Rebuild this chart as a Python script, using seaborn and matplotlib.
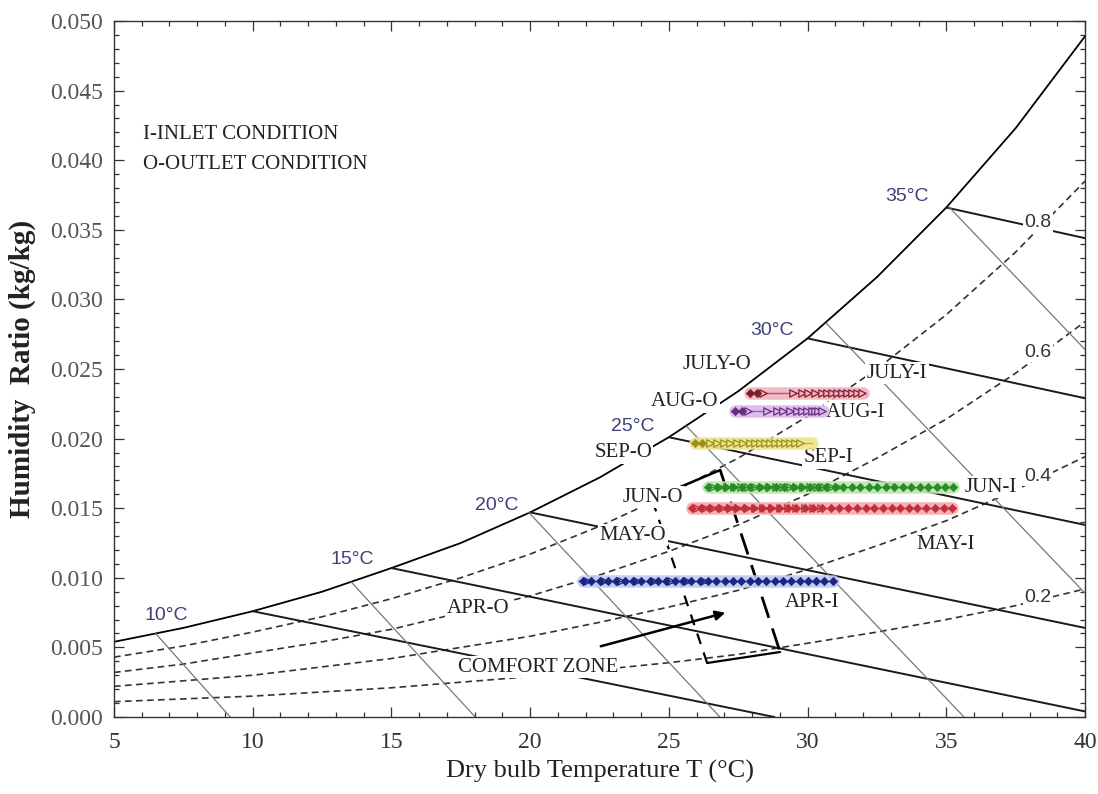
import matplotlib
matplotlib.use("Agg")
import matplotlib.pyplot as plt
import seaborn as sns
from matplotlib.ticker import MultipleLocator, FormatStrFormatter

# ---- psychrometric background (dry bulb degC, humidity ratio kg/kg)
T_GRID = [5, 7.5, 10, 12.5, 15, 17.5, 20, 22.5, 25, 27.5, 30, 32.5, 35, 37.5, 40]
W_SAT = [0.0054, 0.0064, 0.0076, 0.0090, 0.0107, 0.0125, 0.0147, 0.0172, 0.0201,
         0.0234, 0.0272, 0.0316, 0.0366, 0.0423, 0.0489]
W_RH80 = [0.0043, 0.0051, 0.0061, 0.0072, 0.0085, 0.0100, 0.0117, 0.0137, 0.0160,
          0.0186, 0.0216, 0.0250, 0.0289, 0.0334, 0.0385]
W_RH60 = [0.0032, 0.0038, 0.0046, 0.0054, 0.0063, 0.0075, 0.0087, 0.0102, 0.0119,
          0.0138, 0.0160, 0.0186, 0.0214, 0.0247, 0.0284]
W_RH40 = [0.0022, 0.0026, 0.0030, 0.0036, 0.0042, 0.0050, 0.0058, 0.0068, 0.0079,
          0.0091, 0.0106, 0.0123, 0.0141, 0.0163, 0.0187]
W_RH20 = [0.0011, 0.0013, 0.0015, 0.0018, 0.0021, 0.0025, 0.0029, 0.0034, 0.0039,
          0.0045, 0.0053, 0.0061, 0.0070, 0.0080, 0.0092]
RH_LABELS = ["0.8", "0.6", "0.4", "0.2"]
RH_LABEL_W = [0.0355, 0.0262, 0.0173, 0.0086]
RH_LABEL_T = 38.3

# wet bulb lines
WB_LABELS = ["10°C", "15°C", "20°C", "25°C", "30°C", "35°C"]
WB_START_T = [10, 15, 20, 25, 30, 35]
WB_START_W = [0.0076, 0.0107, 0.0147, 0.0201, 0.0272, 0.0366]
WB_END_T = [28.8, 40, 40, 40, 40, 40]
WB_END_W = [0.0, 0.0004, 0.0064, 0.0138, 0.0229, 0.0344]
WB_LABEL_T = [6.9, 13.6, 18.8, 23.7, 28.7, 33.6]
WB_LABEL_W = [0.0073, 0.0113, 0.0152, 0.0209, 0.0278, 0.0374]

# specific volume lines
VOL_START_T = [6.5, 13.55, 19.95, 25.63, 30.67, 35.07]
VOL_START_W = [0.0060, 0.0097, 0.0147, 0.0209, 0.0283, 0.0367]
VOL_END_T = [9.19, 18.02, 26.84, 35.64, 40, 40]
VOL_END_W = [0.0, 0.0, 0.0, 0.0, 0.0089, 0.0264]

# ---- monthly runs (constant humidity ratio)
MONTHS = ["JULY", "AUG", "SEP", "JUN", "MAY", "APR"]
MONTH_W = [0.02328, 0.02198, 0.01968, 0.01652, 0.01501, 0.00977]
JULY_D = [27.93, 28.17]
JULY_A = [28.41, 29.49, 29.79, 30.03, 30.27, 30.51, 30.69, 30.87, 31.05, 31.23,
          31.41, 31.59, 31.77, 31.95]
AUG_D = [27.39, 27.63]
AUG_A = [27.87, 28.53, 28.89, 29.13, 29.37, 29.61, 29.79, 29.97, 30.15, 30.27,
         30.39, 30.51]
SEP_D = [25.94, 26.18]
SEP_A = [26.49, 26.73, 26.97, 27.21, 27.45, 27.69, 27.93, 28.11, 28.29, 28.47,
         28.65, 28.83, 29.01, 29.19, 29.37, 29.55, 29.73]
JUN_D = [26.41, 26.72, 27.02, 27.33, 27.63, 27.94, 28.24, 28.55, 28.85, 29.16,
         29.46, 29.77, 30.07, 30.38, 30.68, 30.99, 31.29, 31.60, 31.90, 32.21,
         32.51, 32.82, 33.12, 33.43, 33.73, 34.04, 34.34, 34.65, 34.95, 35.25]
JUN_A = [26.6, 26.85, 27.1, 27.35, 27.6, 27.85, 28.1, 28.35, 28.6, 28.85, 29.1,
         29.35, 29.6, 29.85, 30.1, 30.35, 30.6, 30.85, 31.1]
MAY_D = [25.84, 26.15, 26.46, 26.78, 27.09, 27.40, 27.71, 28.03, 28.34, 28.65,
         28.96, 29.28, 29.59, 29.90, 30.21, 30.53, 30.84, 31.15, 31.46, 31.78,
         32.09, 32.40, 32.71, 33.03, 33.34, 33.65, 33.96, 34.28, 34.59, 34.90, 35.21]
MAY_A = [26.0, 26.3, 26.6, 26.9, 27.2, 27.5, 27.8, 28.1, 28.4, 28.7, 29.0, 29.3,
         29.6, 29.9, 30.2, 30.5]
APR_D = [21.91, 22.21, 22.51, 22.81, 23.11, 23.41, 23.71, 24.01, 24.31, 24.61,
         24.91, 25.21, 25.51, 25.81, 26.11, 26.41, 26.71, 27.01, 27.31, 27.61,
         27.91, 28.21, 28.51, 28.81, 29.11, 29.41, 29.71, 30.01, 30.31, 30.61, 30.92]
APR_A = [22.06, 22.66, 23.26, 23.86, 24.46, 25.06, 25.66, 26.26]
RUN_END = [32.0, 30.56, 30.15, 35.25, 35.21, 30.92]

# labels on the chart
TAG_TEXT = ["JULY-O", "JULY-I", "AUG-O", "AUG-I", "SEP-O", "SEP-I", "JUN-O", "JUN-I",
            "MAY-O", "MAY-I", "APR-O", "APR-I", "COMFORT ZONE"]
TAG_T = [26.74, 33.23, 25.58, 31.71, 23.35, 30.74, 24.43, 36.61, 23.71, 34.96, 18.12, 30.16, 20.28]
TAG_W = [0.02529, 0.02471, 0.02263, 0.02184, 0.01897, 0.01861, 0.0158, 0.01652,
         0.01307, 0.01236, 0.00776, 0.00826, 0.00359]

# comfort zone corners (TL, TR, BR, BL) and pointer arrow
CZ_T = [24.39, 26.85, 29.01, 26.38]
CZ_W = [0.01566, 0.01774, 0.00467, 0.00388]
ARROW_FROM = (22.45, 0.00503)
ARROW_TO = (27.13, 0.00754)

run_colors = {
    "JULY": ("#7a1f2e", "#f2b3c0"),
    "AUG": ("#6b2d82", "#dcb6ea"),
    "SEP": ("#9c8f1e", "#efe58a"),
    "JUN": ("#2c8a2c", "#b9e8a8"),
    "MAY": ("#c0303c", "#f6a9ad"),
    "APR": ("#1c2380", "#bccbf2"),
}

sns.set_style("ticks")
plt.rcParams["font.family"] = ["Liberation Serif", "DejaVu Serif"]

fig = plt.figure(figsize=(10.98, 7.94), dpi=100)
ax = fig.add_axes([114 / 1098, 77 / 794, 971 / 1098, 696 / 794])

# saturation + RH curves
sns.lineplot(x=T_GRID, y=W_SAT, color="black", lw=1.3, ax=ax, zorder=2)
for w_rh in [W_RH80, W_RH60, W_RH40, W_RH20]:
    ax.plot(T_GRID, w_rh, color="#333333", lw=1.2, dashes=(4, 2.6), zorder=2)

for i in range(len(WB_START_T)):
    ax.plot([WB_START_T[i], WB_END_T[i]], [WB_START_W[i], WB_END_W[i]],
            color="#1a1a1a", lw=1.4, zorder=2)
    ax.text(WB_LABEL_T[i], WB_LABEL_W[i], WB_LABELS[i], family="Liberation Sans",
            fontsize=14, color="#3f3f7a", ha="center", va="center", zorder=3)

for i in range(len(VOL_START_T)):
    ax.plot([VOL_START_T[i], VOL_END_T[i]], [VOL_START_W[i], VOL_END_W[i]],
            color="#6f7d6f", lw=0.9, zorder=2)

box = dict(facecolor="white", edgecolor="none", pad=1.0)
for lab, w in zip(RH_LABELS, RH_LABEL_W):
    ax.text(RH_LABEL_T, w, lab, family="Liberation Sans", fontsize=14, color="#333333",
            ha="center", va="center", bbox=box, zorder=5)

# comfort zone
ax.plot([CZ_T[0], CZ_T[1]], [CZ_W[0], CZ_W[1]], color="black", lw=1.8, zorder=4)
ax.plot([CZ_T[1], CZ_T[2]], [CZ_W[1], CZ_W[2]], color="black", lw=2.0, dashes=(8, 4), zorder=4)
ax.plot([CZ_T[2], CZ_T[3]], [CZ_W[2], CZ_W[3]], color="black", lw=1.6, zorder=4)
ax.plot([CZ_T[3], CZ_T[0]], [CZ_W[3], CZ_W[0]], color="black", lw=1.6, dashes=(5, 4), zorder=4)
ax.annotate("", xy=ARROW_TO, xytext=ARROW_FROM, zorder=4,
            arrowprops=dict(arrowstyle="-|>", lw=1.8, color="black", mutation_scale=14))

for lab, t, w in zip(TAG_TEXT, TAG_T, TAG_W):
    ax.text(t, w, lab, fontsize=15, color="#222222", ha="center", va="center",
            bbox=box, zorder=5)

ax.text(6.05, 0.04188, "I-INLET CONDITION", fontsize=15, color="#222222", va="center")
ax.text(6.05, 0.03966, "O-OUTLET CONDITION", fontsize=15, color="#222222", va="center")

# monthly runs
runs = {"JULY": (JULY_D, JULY_A), "AUG": (AUG_D, AUG_A), "SEP": (SEP_D, SEP_A),
        "JUN": (JUN_D, JUN_A), "MAY": (MAY_D, MAY_A), "APR": (APR_D, APR_A)}
for m, w, t_end in zip(MONTHS, MONTH_W, RUN_END):
    dark, glow = run_colors[m]
    t_dia, t_arr = runs[m]
    t0 = min(t_dia + t_arr)
    ax.plot([t0, t_end], [w, w], color=glow, lw=9, alpha=0.9, solid_capstyle="round", zorder=6)
    ax.plot([t0, t_end], [w, w], color=dark, lw=1.0, alpha=0.6, zorder=6)
    sns.scatterplot(x=t_arr, y=[w] * len(t_arr), marker=">", s=28, color=glow,
                    edgecolor=dark, linewidth=0.9, ax=ax, zorder=7)
    sns.scatterplot(x=t_dia, y=[w] * len(t_dia), marker="D", s=18, color=dark,
                    edgecolor=dark, linewidth=0.5, ax=ax, zorder=7)

ax.set_xlim(5, 40)
ax.set_ylim(0, 0.05)
ax.xaxis.set_major_locator(MultipleLocator(5))
ax.xaxis.set_minor_locator(MultipleLocator(1))
ax.yaxis.set_major_locator(MultipleLocator(0.005))
ax.yaxis.set_minor_locator(MultipleLocator(0.001))
ax.yaxis.set_major_formatter(FormatStrFormatter("%.3f"))
ax.tick_params(which="both", direction="in", top=True, right=True, width=0.9, color="#333333")
ax.tick_params(which="major", length=7, labelsize=17, pad=8)
ax.tick_params(which="minor", length=3.5)
ax.tick_params(axis="y", labelcolor="#555555")
ax.tick_params(axis="x", labelcolor="#333333", pad=11)
for sp in ax.spines.values():
    sp.set_linewidth(1.0)
    sp.set_color("#333333")

ax.set_xlabel("Dry bulb Temperature T (°C)", fontsize=19, color="#222222", labelpad=5)
ax.set_ylabel("Humidity  Ratio (kg/kg)", fontsize=21, fontweight="bold", color="#222222",
              labelpad=10)

fig.savefig("out.png", dpi=100)
